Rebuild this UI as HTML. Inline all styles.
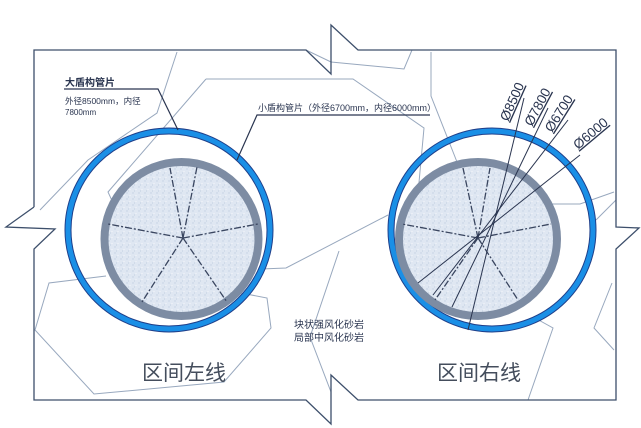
<!DOCTYPE html>
<html><head><meta charset="utf-8"><style>
html,body{margin:0;padding:0;background:#fff;}
svg{display:block;}
text{font-family:"Liberation Sans","Noto Sans CJK SC",sans-serif;}
</style></head><body>
<svg width="641" height="428" viewBox="0 0 641 428" xmlns="http://www.w3.org/2000/svg">
<defs>
<pattern id="sp" width="6" height="6" patternUnits="userSpaceOnUse">
<rect width="6" height="6" fill="#dfe7f2"/>
<circle cx="1" cy="1" r="0.7" fill="#c3d0e2"/>
<circle cx="4" cy="3.5" r="0.6" fill="#f4f7fb"/>
<circle cx="2.5" cy="5" r="0.5" fill="#b9c7da"/>
</pattern>
</defs>
<g fill="none" stroke="#98a8be" stroke-width="1">
<polyline points="177,52 157,113 88,160 40,210"/>
<polyline points="206,79 353,79 424,128 416,215"/>
<polyline points="206,79 108,192 114,205"/>
<polyline points="306,50 331,62 404,69 412,50"/>
<polyline points="431,52 431,96 457,162"/>
<polyline points="261,269 286,268 388,215"/>
<polyline points="106,276 49,283 35,330 94,394 224,382 271,328 267,298 241,293"/>
<polyline points="339,251 310,337 331,392"/>
<polyline points="549,204 580,204 614,192"/>
<polyline points="535,318 553,328 528,400"/>
<polyline points="612,283 594,328 614,350"/>
<polyline points="596,220 616,200"/>
</g>
<polyline fill="none" stroke="#3d4f6b" stroke-width="1.3" points="34,207 34,50 306,50 331,74 331,25 358,50 616,50 616,227 639,228 616,249 616,400 358,400 331,375 331,424 306,400 34,400 34,249 55,229 6,227 34,207"/>
<!-- left tunnel -->
<ellipse cx="169" cy="230" rx="101" ry="99" fill="none" stroke="#1f3f8a" stroke-width="7"/>
<ellipse cx="169" cy="230" rx="101" ry="99" fill="none" stroke="#1a8fe6" stroke-width="5"/>
<ellipse cx="181.5" cy="239" rx="77" ry="77" fill="url(#sp)" stroke="#7d8ca3" stroke-width="8"/>
<g stroke="#3a4660" stroke-width="1.3" stroke-dasharray="7,2,2,2" fill="none">
<line x1="183" y1="238" x2="170" y2="168"/><line x1="183" y1="238" x2="197" y2="167"/>
<line x1="183" y1="238" x2="108" y2="224"/><line x1="183" y1="238" x2="258" y2="224"/>
<line x1="183" y1="238" x2="142" y2="302"/><line x1="183" y1="238" x2="227" y2="302"/>
</g>
<!-- right tunnel -->
<ellipse cx="492" cy="230" rx="101" ry="99" fill="none" stroke="#1f3f8a" stroke-width="7"/>
<ellipse cx="492" cy="230" rx="101" ry="99" fill="none" stroke="#1a8fe6" stroke-width="5"/>
<ellipse cx="478" cy="239" rx="79" ry="77" fill="url(#sp)" stroke="#7d8ca3" stroke-width="8"/>
<g stroke="#3a4660" stroke-width="1.3" stroke-dasharray="7,2,2,2" fill="none">
<line x1="478" y1="238" x2="463" y2="168"/><line x1="478" y1="238" x2="490" y2="168"/>
<line x1="478" y1="238" x2="402" y2="224"/><line x1="478" y1="238" x2="551" y2="224"/>
<line x1="478" y1="238" x2="435" y2="300"/><line x1="478" y1="238" x2="518" y2="300"/>
</g>
<g stroke="#2a3550" stroke-width="1" fill="none">
<line x1="524" y1="98" x2="468" y2="330"/>
<line x1="548" y1="108" x2="452" y2="307"/>
<line x1="568" y1="120" x2="433" y2="295"/>
<line x1="580" y1="155" x2="418" y2="283"/>
</g>
<g font-size="13.5" fill="#2a3550" text-decoration="underline">
<text transform="translate(508,122) rotate(-66)">Ø8500</text>
<text transform="translate(532,127) rotate(-62)">Ø7800</text>
<text transform="translate(552,133) rotate(-58)">Ø6700</text>
<text transform="translate(578,150) rotate(-40)">Ø6000</text>
</g>
<g stroke="#2a3550" stroke-width="1.2" fill="none">
<polyline points="64,89 158,89 178,130"/>
<polyline points="430,115 257,115 237,160"/>
</g>
<g fill="#2a3550">
<text x="65" y="86" font-size="10" font-weight="bold">大盾构管片</text>
<text x="65" y="104" font-size="8.5">外径8500mm，内径</text>
<text x="65" y="115" font-size="8">7800mm</text>
<text x="258" y="111" font-size="9">小盾构管片（外径6700mm，内径6000mm）</text>
<text x="294" y="328" font-size="10">块状强风化砂岩</text>
<text x="294" y="341" font-size="10">局部中风化砂岩</text>
</g>
<g fill="#444d5c" font-size="21">
<text x="142" y="380">区间左线</text>
<text x="437" y="380">区间右线</text>
</g>
</svg>
</body></html>
